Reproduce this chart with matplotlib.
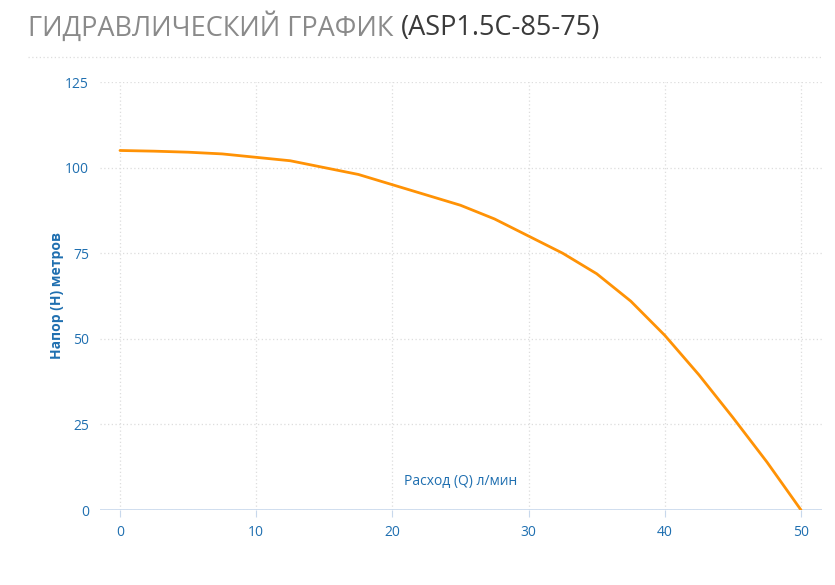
import matplotlib
matplotlib.use("Agg")
import matplotlib.pyplot as plt
from matplotlib.lines import Line2D

flow = [0, 2.5, 5, 7.5, 10, 12.5, 15, 17.5, 20, 22.5, 25, 27.5, 30, 32.5, 35, 37.5, 40, 42.5, 45, 47.5, 50]
head = [105, 104.8, 104.5, 104, 103, 102, 100, 98, 95, 92, 89, 85, 80, 75, 69, 61, 51, 39.5, 27, 14, 0]
xticks = [0, 10, 20, 30, 40, 50]
yticks = [0, 25, 50, 75, 100, 125]

plt.rcParams['font.family'] = ['Open Sans', 'DejaVu Sans']
fig = plt.figure(figsize=(8.35, 5.85), dpi=100)
px = 13.62
ax = fig.add_axes([100/835, 75/585, 722/835, 428/585])
ax.set_xlim(-20/px, 50 + 21/px)
ax.set_ylim(0, 125)
for s in ax.spines.values():
    s.set_visible(False)
ax.axhline(0, color='#c8d8ec', lw=1.2, zorder=1)
ax.set_xticks(xticks)
ax.set_yticks(yticks)
ax.tick_params(colors='#1f6fb0', labelsize=10, length=0, pad=8)
ax.tick_params(axis='x', length=5, color='#c8d8ec', pad=6)
ax.grid(True, linestyle=(0, (1, 2)), color='#dddddd', lw=0.9)
ax.set_axisbelow(True)
ax.plot(flow, head, color='#ff9205', lw=2, zorder=3, solid_capstyle='round', solid_joinstyle='round')
ax.text(25, 6, 'Расход (Q) л/мин', color='#1f6fb0', fontsize=10, ha='center', va='bottom')
fig.text(57/835, 1 - 296/585, 'Напор (H) метров', rotation=90, color='#1f6fb0',
         fontsize=10, fontweight='bold', ha='center', va='center')
t = fig.text(28/835, 1 - 28/585, 'ГИДРАВЛИЧЕСКИЙ ГРАФИК ', color='#8a8a8a', fontsize=19.5, va='center')
fig.canvas.draw()
bb = t.get_window_extent()
fig.text(bb.x1/835, 1 - 28/585, '(ASP1.5C-85-75)', color='#3a3a3a', fontsize=19.5, va='center')
fig.add_artist(Line2D([28/835, 822/835], [1 - 57/585]*2, transform=fig.transFigure,
                      color='#dddddd', lw=0.9, linestyle=(0, (1, 2))))
fig.savefig('out.png', dpi=100)
